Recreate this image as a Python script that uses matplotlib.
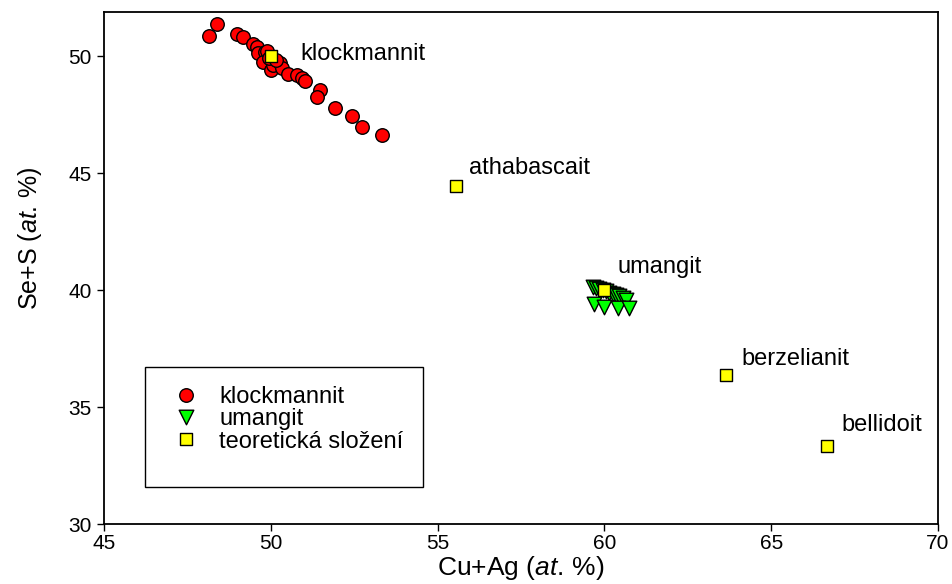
# -*- coding: utf-8 -*-
# Cu+Ag vs Se+S (at. %) for klockmannit and umangit analyses,
# with the theoretical compositions of the Cu-Se minerals

import matplotlib
matplotlib.use("Agg")
import matplotlib.pyplot as plt
from matplotlib.patches import Rectangle

plt.rcParams['font.family'] = ['Liberation Sans', 'DejaVu Sans']
plt.rcParams['mathtext.fontset'] = 'custom'
plt.rcParams['mathtext.rm'] = 'Liberation Sans'
plt.rcParams['mathtext.it'] = 'Liberation Sans:italic'

# klockmannit analyses
klock_cuag = [48.16, 48.40, 48.98, 49.16, 49.46, 49.60, 49.63, 49.83, 49.76, 49.90,
              50.00, 50.08, 50.28, 50.33, 50.53, 50.78, 50.93, 51.03, 51.47, 51.39,
              51.92, 52.42, 52.72, 53.32, 49.95, 50.15]
klock_ses = [50.88, 51.38, 50.95, 50.85, 50.53, 50.42, 50.14, 50.17, 49.78, 50.25,
             49.43, 49.64, 49.74, 49.50, 49.26, 49.21, 49.07, 48.97, 48.57, 48.28,
             47.79, 47.47, 47.00, 46.65, 49.95, 49.85]

# umangit analyses
uman_cuag = [59.65, 59.75, 59.85, 59.95, 60.05, 60.15, 60.25, 60.35, 60.45, 60.55,
             60.65, 59.70, 60.00, 60.40, 60.75]
uman_ses = [40.15, 40.10, 40.05, 40.00, 39.95, 39.90, 39.85, 39.80, 39.75, 39.68,
            39.58, 39.40, 39.30, 39.25, 39.25]

# theoretical compositions
teor_names = ["klockmannit", "athabascait", "umangit", "berzelianit", "bellidoit"]
teor_cuag = [50.00, 55.56, 60.00, 63.64, 66.67]
teor_ses = [50.00, 44.44, 40.00, 36.36, 33.33]
# label offsets (pixels) from each square
label_dx = [30, 13, 13, 16, 15]
label_dy = [-4, 12, 17, 10, 15]

fig = plt.figure(figsize=(9.52, 5.84), dpi=100)
ax = fig.add_axes([0.1092, 0.1027, 0.8761, 0.8767])

ax.scatter(klock_cuag, klock_ses, s=95, marker='o', facecolor='#FF0000',
           edgecolor='black', linewidth=1.0, zorder=3, label='klockmannit')
ax.scatter(uman_cuag, uman_ses, s=110, marker='v', facecolor='#00FF00',
           edgecolor='black', linewidth=1.0, zorder=3, label='umangit')
ax.scatter(teor_cuag, teor_ses, s=80, marker='s', facecolor='#FFFF00',
           edgecolor='black', linewidth=1.0, zorder=4, label='teoretická složení')

for name, x, y, dx, dy in zip(teor_names, teor_cuag, teor_ses, label_dx, label_dy):
    ax.annotate(name, (x, y), xytext=(dx, dy), textcoords='offset pixels',
                ha='left', va='baseline', fontsize=17)

ax.set_xlim(45, 70)
ax.set_ylim(30, 51.9)
ax.set_xticks([45, 50, 55, 60, 65, 70])
ax.set_yticks([30, 35, 40, 45, 50])
ax.tick_params(direction='out', length=5, width=1.0, labelsize=15, pad=2)
ax.tick_params(axis='y', pad=4)
for sp in ax.spines.values():
    sp.set_linewidth(1.3)

ax.set_xlabel('Cu+Ag ($\\mathit{at.}\\,$%)', fontsize=19, labelpad=1)
ax.set_ylabel('Se+S ($\\mathit{at.}\\,$%)', fontsize=18)
ax.yaxis.set_label_coords(-0.072, 0.559)

# legend box
ax.add_patch(Rectangle((0.049, 0.0723), 0.3335, 0.2344, transform=ax.transAxes,
                       facecolor='white', edgecolor='black', linewidth=1.0, zorder=5))
leg = ax.legend(loc='upper left', bbox_to_anchor=(0.07, 0.293), frameon=False,
                fontsize=17, handletextpad=0.9, labelspacing=0.02,
                borderpad=0, handlelength=1.0, scatteryoffsets=[0.5])
leg.set_zorder(6)

fig.savefig('out.png', dpi=100)
